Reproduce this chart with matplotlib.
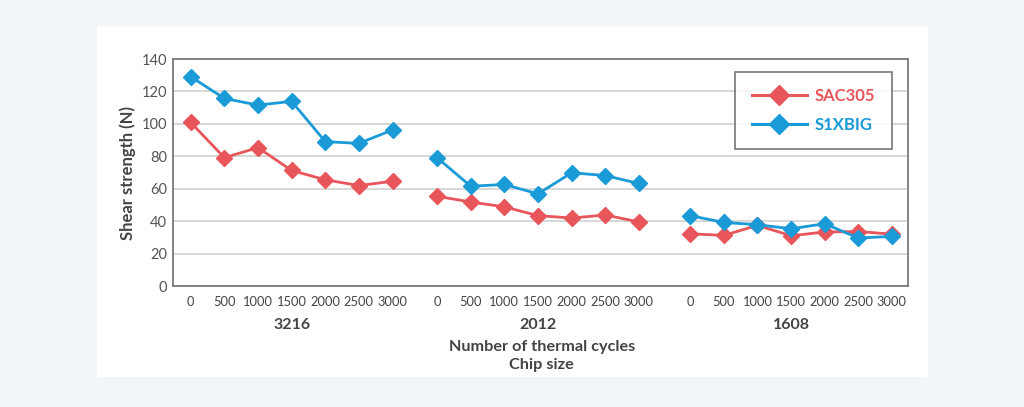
import matplotlib
matplotlib.use("Agg")
import matplotlib.pyplot as plt
from matplotlib.patches import FancyBboxPatch
from matplotlib.lines import Line2D
from matplotlib import font_manager as fm
import numpy as np

cycles = ["0", "500", "1000", "1500", "2000", "2500", "3000"]
chip_sizes = ["3216", "2012", "1608"]
sac305 = [
    [100.9, 79.2, 85.4, 71.3, 65.6, 62.0, 64.7],
    [55.4, 51.9, 48.9, 43.5, 42.0, 43.9, 39.6],
    [32.3, 31.3, 37.5, 31.1, 33.4, 33.7, 32.1],
]
s1xbig = [
    [129.1, 115.7, 111.6, 113.9, 89.1, 88.0, 96.3],
    [79.2, 61.6, 62.7, 56.9, 69.9, 68.2, 63.3],
    [43.5, 39.3, 37.9, 35.4, 38.5, 29.7, 30.7],
]
series_names = ["SAC305", "S1XBIG"]

RED = "#e8555a"
BLUE = "#1a9ad7"
TXT = "#444444"

avail = {f.name for f in fm.fontManager.ttflist}
main = "Lato" if "Lato" in avail else "DejaVu Sans"
plt.rcParams["font.family"] = [main, "DejaVu Sans"]

fig = plt.figure(figsize=(10.24, 4.07), dpi=100)
fig.patch.set_facecolor("#f2f6f9")
card = FancyBboxPatch((97 / 1024, 1 - 377 / 407), (928 - 97) / 1024, (377 - 26) / 407,
                      boxstyle="round,pad=0,rounding_size=0.004", transform=fig.transFigure,
                      facecolor="white", edgecolor="none", zorder=-10)
fig.patches.append(card)

ax = fig.add_axes([0.1687, 0.2968, 0.7181, 0.5582])
ax.set_zorder(1)
ax.set_facecolor("white")

gaps = [0.0, 1.325, 1.525]
n = len(cycles)
starts = np.cumsum([0.0] + [n - 1 + g for g in gaps[1:]])
xpos_all = []
for gi, cs in enumerate(chip_sizes):
    xs = starts[gi] + np.arange(n)
    xpos_all.extend(xs)
    for vals, col in ((sac305[gi], RED), (s1xbig[gi], BLUE)):
        ax.plot(xs, vals, color=col, lw=2.0, marker="D", ms=8.5, mec=col, mfc=col, zorder=3,
                solid_joinstyle="round")
    ax.text(starts[gi] + (n - 1) / 2, -0.17, cs, transform=ax.get_xaxis_transform(),
            ha="center", va="center", fontsize=11.5, fontweight="bold", color=TXT)

ax.set_xlim(-0.535, starts[-1] + n - 1 + 0.48)
ax.set_ylim(0, 140)
ax.set_yticks(np.arange(0, 141, 20))
ax.set_xticks(xpos_all)
ax.set_xticklabels(cycles * len(chip_sizes), fontsize=9.3, color=TXT)
ax.tick_params(axis="x", length=0, pad=7)
ax.tick_params(axis="y", length=0, pad=4, labelsize=10.5, labelcolor="#555555")
ax.grid(axis="y", color="#d4d4d4", lw=1.3)
ax.set_axisbelow(True)
for s in ax.spines.values():
    s.set_color("#7a7a7a")
    s.set_linewidth(1.3)

ax.set_ylabel("Shear strength (N)", fontsize=12, fontweight="bold", color=TXT, labelpad=4)

fig.text(0.529, 1 - 347 / 407, "Number of thermal cycles", ha="center", va="center",
         fontsize=11.7, fontweight="bold", color=TXT)
fig.text(0.529, 1 - 365 / 407, "Chip size", ha="center", va="center",
         fontsize=11.7, fontweight="bold", color=TXT)

handles = [Line2D([0], [0], color=c, lw=2.2, marker="D", ms=10, mec=c, mfc=c) for c in (RED, BLUE)]
leg = ax.legend(handles, series_names, loc="upper right", bbox_to_anchor=(0.9775, 0.945),
                frameon=True, fancybox=False, handlelength=3.3, borderpad=1.0,
                prop={"size": 12, "weight": "bold"}, labelspacing=0.75, handletextpad=0.45,
                borderaxespad=0)
leg.get_frame().set_edgecolor("#555555")
leg.get_frame().set_linewidth(1.2)
for t, c in zip(leg.get_texts(), (RED, BLUE)):
    t.set_color(c)

fig.savefig("out.png", dpi=100, facecolor=fig.get_facecolor())
